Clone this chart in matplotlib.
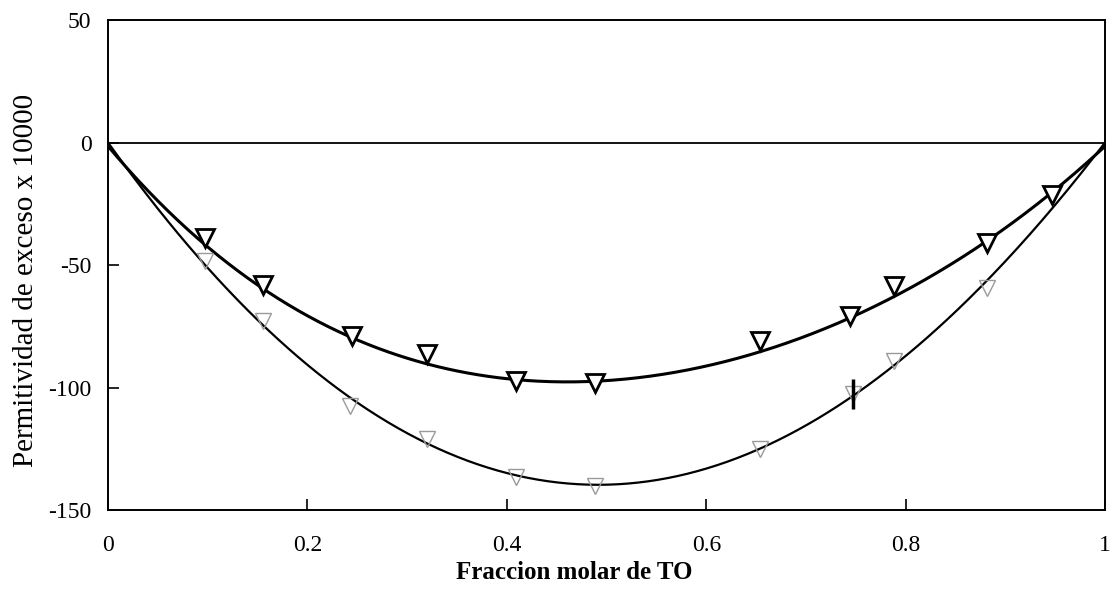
import numpy as np
import matplotlib
matplotlib.use("Agg")
import matplotlib.pyplot as plt

plt.rcParams['font.family'] = ['Liberation Serif', 'DejaVu Serif']
plt.rcParams['axes.unicode_minus'] = False

# mole fraction of TO and excess permittivity (x 10000)
x_upper = [0.097, 0.155, 0.245, 0.320, 0.409, 0.488, 0.654, 0.744, 0.788, 0.882, 0.947]
e_upper = [-39.0, -58.0, -79.0, -86.5, -97.5, -98.0, -81.0, -71.0, -58.5, -41.0, -21.5]

x_lower = [0.097, 0.155, 0.243, 0.320, 0.409, 0.488, 0.654, 0.747, 0.788, 0.882]
e_lower = [-48.5, -73.0, -107.5, -121.0, -136.5, -140.0, -125.0, -102.5, -89.0, -59.5]

# error mark on the lower series
x_bar = [0.747]
e_bar = [-102.5]


def redlich_kister(x, y, order=3):
    x = np.asarray(x)
    y = np.asarray(y)
    basis = np.column_stack([x * (1 - x) * (2 * x - 1) ** k for k in range(order)])
    coef, *_ = np.linalg.lstsq(basis, y, rcond=None)
    xs = np.linspace(0, 1, 400)
    fit = sum(c * xs * (1 - xs) * (2 * xs - 1) ** k for k, c in enumerate(coef))
    return xs, fit


fig = plt.figure(figsize=(11.15, 5.89), dpi=100)
ax = fig.add_axes([0.0969, 0.1341, 0.8942, 0.8319])

ax.axhline(0, color='black', lw=1.3)

xs, fu = redlich_kister(x_upper, e_upper)
ax.plot(xs, fu - 1.5, color='black', lw=2.2)
xs, fl = redlich_kister(x_lower, e_lower)
ax.plot(xs, fl, color='black', lw=1.6)

ax.plot(x_upper, e_upper, 'v', ms=13, mfc='white', mec='black', mew=2.0, ls='none')
ax.plot(x_lower, e_lower, 'v', ms=11, mfc='none', mec='#9a9a9a', mew=1.0, ls='none')
ax.plot(x_bar, e_bar, '|', ms=22, mec='black', mew=2.5, ls='none')

ax.set_xlim(0, 1)
ax.set_ylim(-150, 50)
ax.set_xticks([0, 0.2, 0.4, 0.6, 0.8, 1])
ax.set_xticklabels(['0', '0.2', '0.4', '0.6', '0.8', '1'])
ax.set_yticks([-150, -100, -50, 0, 50])
ax.tick_params(direction='in', length=8, width=1.2, labelsize=17)
ax.tick_params(axis='x', pad=18)
ax.tick_params(axis='y', pad=12)
for s in ax.spines.values():
    s.set_linewidth(1.4)

ax.set_xlabel('Fraccion molar de TO', fontsize=18, fontweight='bold')
ax.set_ylabel('Permitividad de exceso x 10000', fontsize=21)
ax.xaxis.set_label_coords(0.468, -0.104)
ax.yaxis.set_label_coords(-0.069, 0.469)

fig.savefig('out.png', dpi=100)
